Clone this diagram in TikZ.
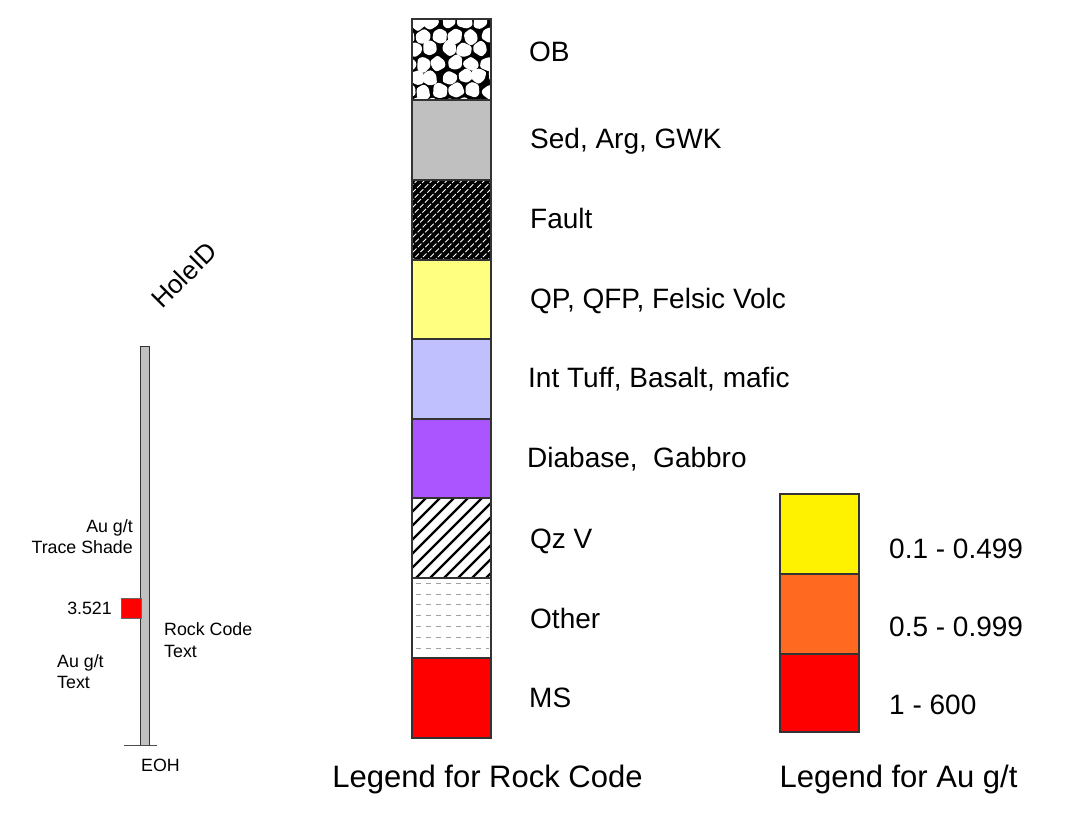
\documentclass[tikz,border=0pt]{standalone}
\usepackage{fontspec}
\setmainfont{Liberation Sans}
\definecolor{sedgray}{RGB}{192,192,192}
\definecolor{qpyellow}{RGB}{255,255,128}
\definecolor{tuffblue}{RGB}{192,192,255}
\definecolor{diapurple}{RGB}{170,85,255}
\definecolor{auorange}{RGB}{255,106,32}
\definecolor{dashgray}{RGB}{160,160,160}
\tikzset{
  lbl/.style={anchor=base west,inner sep=0pt,font=\fontsize{28}{32}\selectfont},
  smalltxt/.style={inner sep=0pt,font=\fontsize{17.8}{21}\selectfont},
  titletxt/.style={anchor=base,inner sep=0pt,font=\fontsize{31}{35}\selectfont},
  boxline/.style={draw=black!80,line width=1.2pt},
}
\begin{document}
\begin{tikzpicture}[x=1pt,y=-1pt]
\useasboundingbox (0,0) rectangle (1075,830);
\fill[white] (0,0) rectangle (1075,830);

% ---------- Rock code legend ----------
% OB cobbles
\begin{scope}
  \clip (412,19) rectangle (491,100);
  \fill[black] (412,19) rectangle (491,100);
  \pgfmathsetseed{31}
  \foreach \i in {-1,...,5}{\foreach \j in {0,...,6}{
    \pgfmathsetmacro\cx{412+4+16*\i+mod(\j,2)*8+rand*2}
    \pgfmathsetmacro\cy{19+3+13.86*\j+rand*2}
    \pgfmathsetmacro\ra{8.0+rand*1.0}
    \pgfmathsetmacro\rb{8.0+rand*1.0}
    \pgfmathsetmacro\rc{8.0+rand*1.0}
    \pgfmathsetmacro\rd{8.0+rand*1.0}
    \pgfmathsetmacro\re{8.0+rand*1.0}
    \pgfmathsetmacro\rf{8.0+rand*1.0}
    \pgfmathsetmacro\aa{30+rand*15}
    \pgfmathsetmacro\ab{90+rand*15}
    \pgfmathsetmacro\ac{150+rand*15}
    \pgfmathsetmacro\ad{210+rand*15}
    \pgfmathsetmacro\ae{270+rand*15}
    \pgfmathsetmacro\af{330+rand*15}
    \fill[white,rounded corners=2.2pt]
      ([shift={(\cx,\cy)}]\aa:\ra) -- ([shift={(\cx,\cy)}]\ab:\rb) --
      ([shift={(\cx,\cy)}]\ac:\rc) -- ([shift={(\cx,\cy)}]\ad:\rd) --
      ([shift={(\cx,\cy)}]\ae:\re) -- ([shift={(\cx,\cy)}]\af:\rf) -- cycle;
  }}
\end{scope}
\draw[boxline] (412,19) rectangle (491,100);

% Sed
\fill[sedgray] (412,100) rectangle (491,180);
\draw[boxline] (412,100) rectangle (491,180);

% Fault
\begin{scope}
  \clip (412,180) rectangle (491,260);
  \fill[black] (412,180) rectangle (491,260);
  \foreach \k in {0,...,22}{
    \draw[white,line width=1pt,dash pattern=on 5pt off 2pt]
      (412-84+7.5*\k,262) -- ++(84,-84);
  }
\end{scope}
\draw[boxline] (412,180) rectangle (491,260);

% QP
\fill[qpyellow] (412,260) rectangle (491,339);
\draw[boxline] (412,260) rectangle (491,339);

% Int Tuff
\fill[tuffblue] (412,339) rectangle (491,419);
\draw[boxline] (412,339) rectangle (491,419);

% Diabase
\fill[diapurple] (412,419) rectangle (491,498);
\draw[boxline] (412,419) rectangle (491,498);

% Qz V
\begin{scope}
  \clip (412,498) rectangle (491,578);
  \fill[white] (412,498) rectangle (491,578);
  \foreach \k in {0,...,12}{
    \draw[black,line width=2.4pt] (412-80+14*\k-2,580) -- ++(84,-84);
  }
\end{scope}
\draw[boxline] (412,498) rectangle (491,578);

% Other
\fill[white] (412,578) rectangle (491,658);
\foreach \k in {0,...,6}{
  \draw[dashgray,line width=0.8pt,dash pattern=on 5pt off 5pt] (416,583+10.9*\k) -- (489,583+10.9*\k);
}
\draw[boxline] (412,578) rectangle (491,658);

% MS
\fill[red] (412,658) rectangle (491,738);
\draw[boxline] (412,658) rectangle (491,738);

% labels
\node[lbl] (lob)   at (529,61)  {OB};
\node[lbl] (lsed)  at (530,148) {Sed, Arg, GWK};
\node[lbl] (lfault)at (530,228) {Fault};
\node[lbl] (lqp)   at (530,308) {QP, QFP, Felsic Volc};
\node[lbl] (ltuff) at (528,387) {Int Tuff, Basalt, mafic};
\node[lbl] (ldia)  at (527,467) {Diabase,\ \ Gabbro};
\node[lbl] (lqz)   at (530,548) {Qz V};
\node[lbl] (loth)  at (530,628) {Other};
\node[lbl] (lms)   at (529,707) {MS};
\node[titletxt] (trock) at (487.5,787) {Legend for Rock Code};

% ---------- Au legend ----------
\fill[yellow] (780,494) rectangle (859,574);
\draw[boxline] (780,494) rectangle (859,574);
\fill[auorange] (780,574) rectangle (859,654);
\draw[boxline] (780,574) rectangle (859,654);
\fill[red] (780,654) rectangle (859,732);
\draw[boxline] (780,654) rectangle (859,732);
\node[lbl] (au1) at (889,558) {0.1 - 0.499};
\node[lbl] (au2) at (889,636) {0.5 - 0.999};
\node[lbl] (au3) at (889,714) {1 - 600};
\node[titletxt] (tau) at (898.5,787) {Legend for Au g/t};

% ---------- Drill hole ----------
\node[inner sep=0pt,font=\fontsize{26}{30}\selectfont,rotate=45] (hole) at (184,275) {HoleID};
\fill[sedgray] (140,346) rectangle (149,745);
\draw[black!80,line width=1pt] (140,346) rectangle (149,745);
\coordinate (tickL) at (124,745);
\coordinate (tickR) at (157,745);
\draw[black!70,line width=1pt] (tickL) -- (tickR);
\fill[red] (121,598) rectangle (141,618);
\draw[black!60,line width=1pt] (121,598) rectangle (141,618);

\node[smalltxt,anchor=base east] (s1) at (133,532) {Au g/t};
\node[smalltxt,anchor=base east] (s2) at (133,553) {Trace Shade};
\node[smalltxt,anchor=base east] (s3) at (112,614) {3.521};
\node[smalltxt,anchor=base west] (s4) at (164,635) {Rock Code};
\node[smalltxt,anchor=base west] (s5) at (164,657) {Text};
\node[smalltxt,anchor=base west] (s6) at (57,667) {Au g/t};
\node[smalltxt,anchor=base west] (s7) at (57,688) {Text};
\node[smalltxt,anchor=base west] (s8) at (141,771) {EOH};
\end{tikzpicture}
\end{document}
